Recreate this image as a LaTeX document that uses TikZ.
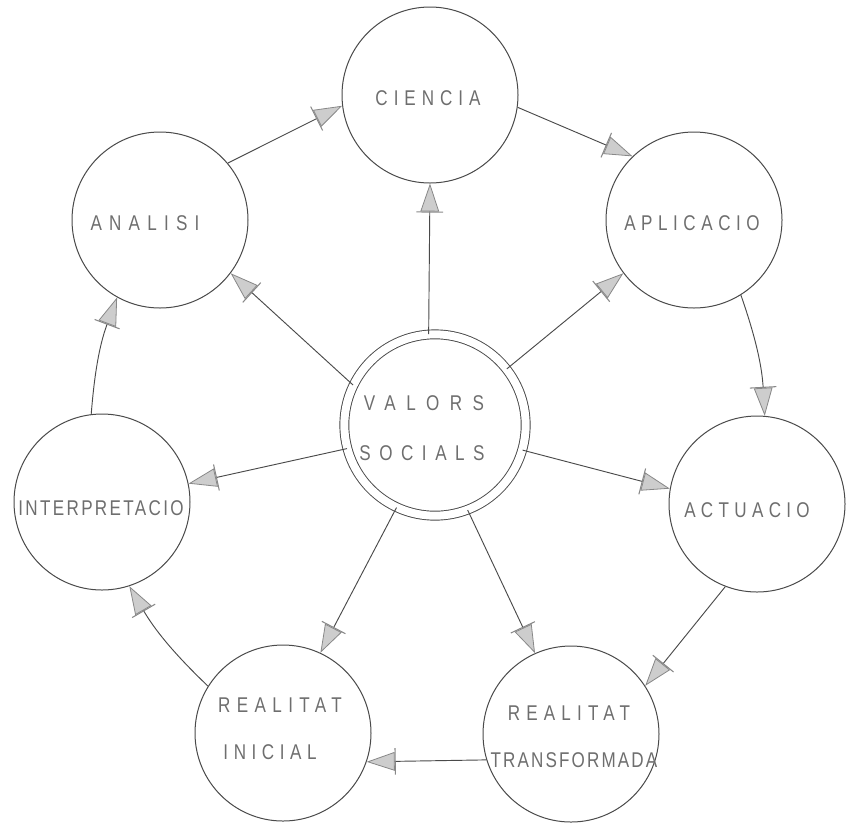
\documentclass[tikz,border=0pt]{standalone}
\usepackage{fontspec}
\setmainfont{Liberation Sans}
\newfontfamily\stencil[FakeStretch=0.8]{Liberation Sans}
\usetikzlibrary{arrows.meta}

\definecolor{ink}{HTML}{4A4A4A}
\definecolor{txt}{HTML}{6E6E6E}
\definecolor{headfill}{HTML}{CDCDCD}
\definecolor{headline}{HTML}{888888}

\tikzset{
  ring/.style={circle, draw=ink, line width=0.75pt, minimum size=132pt, inner sep=0pt},
  hub/.style={circle, draw=ink, line width=0.7pt, double, double distance=6pt,
              minimum size=136pt, inner sep=0pt},
  word/.style={text=txt, font=\stencil\fontsize{16}{16}\selectfont, inner sep=0pt},
  flow/.style={draw=ink, line width=0.7pt,
    -{Bar[width=20pt,line width=0.8pt,color=headline,sep=0pt]Triangle[length=21pt,width=14pt,color=headline,fill=headfill,line width=0.6pt]}},
}
\newcommand\spaced[2]{{\addfontfeatures{LetterSpace=#1}#2}}

\begin{document}
\begin{tikzpicture}[x=0.75pt,y=-0.75pt]
  \useasboundingbox (0,0) rectangle (852,833);

  % circles
  \node[hub]  (valors)  at (435,425) {};
  \node[ring] (ciencia) at (430,95)  {};
  \node[ring] (analisi) at (160,220) {};
  \node[ring] (aplic)   at (694,220) {};
  \node[ring] (actua)   at (757,504) {};
  \node[ring] (rtrans)  at (571,734) {};
  \node[ring] (rinic)   at (283,733) {};
  \node[ring] (interp)  at (102,502) {};

  % labels
  \node[word] (l-valors)  at (424,403) {\spaced{49}{VALORS}};
  \node[word] (l-socials) at (422,453) {\spaced{40}{SOCIALS}};
  \node[word] (l-ciencia) at (428,98)  {\spaced{28}{CIENCIA}};
  \node[word] (l-analisi) at (145,223) {\spaced{34}{ANALISI}};
  \node[word] (l-aplic)   at (692,223) {\spaced{26}{APLICACIO}};
  \node[word] (l-actua)   at (747,510) {\spaced{25}{ACTUACIO}};
  \node[word] (l-rt1)     at (569,713) {\spaced{29}{REALITAT}};
  \node[word] (l-rt2)     at (574,760) {\spaced{10}{TRANSFORMADA}};
  \node[word] (l-ri1)     at (280,705) {\spaced{30}{REALITAT}};
  \node[word] (l-ri2)     at (270,752) {\spaced{26}{INICIAL}};
  \node[word] (l-interp)  at (101,508) {\spaced{11}{INTERPRETACIO}};

  % outer cycle
  \draw[flow] (analisi.40.6)  -- (ciencia.-173.4);
  \draw[flow] (ciencia.-8.7)  -- (aplic.134.5);
  \draw[flow] (aplic.-58)     to[bend left=8] (actua.85);
  \draw[flow] (actua.-111)    -- (rtrans.33.4);
  \draw[flow] (rtrans.-163)   -- (rinic.-19.4);
  \draw[flow] (rinic.148)     to[bend left=8] (interp.-72);
  \draw[flow] (interp.97.7)   to[bend left=8] (analisi.-119.5);

  % spokes from the hub
  \draw[flow] (valors.94)   -- (ciencia.-90);
  \draw[flow] (valors.38.9) -- (aplic.-143);
  \draw[flow] (valors.-16)  -- (actua.170);
  \draw[flow] (valors.-69)  -- (rtrans.114);
  \draw[flow] (valors.-115) -- (rinic.65.5);
  \draw[flow] (valors.-165) -- (interp.12.5);
  \draw[flow] (valors.154)  -- (analisi.-37);
\end{tikzpicture}
\end{document}
